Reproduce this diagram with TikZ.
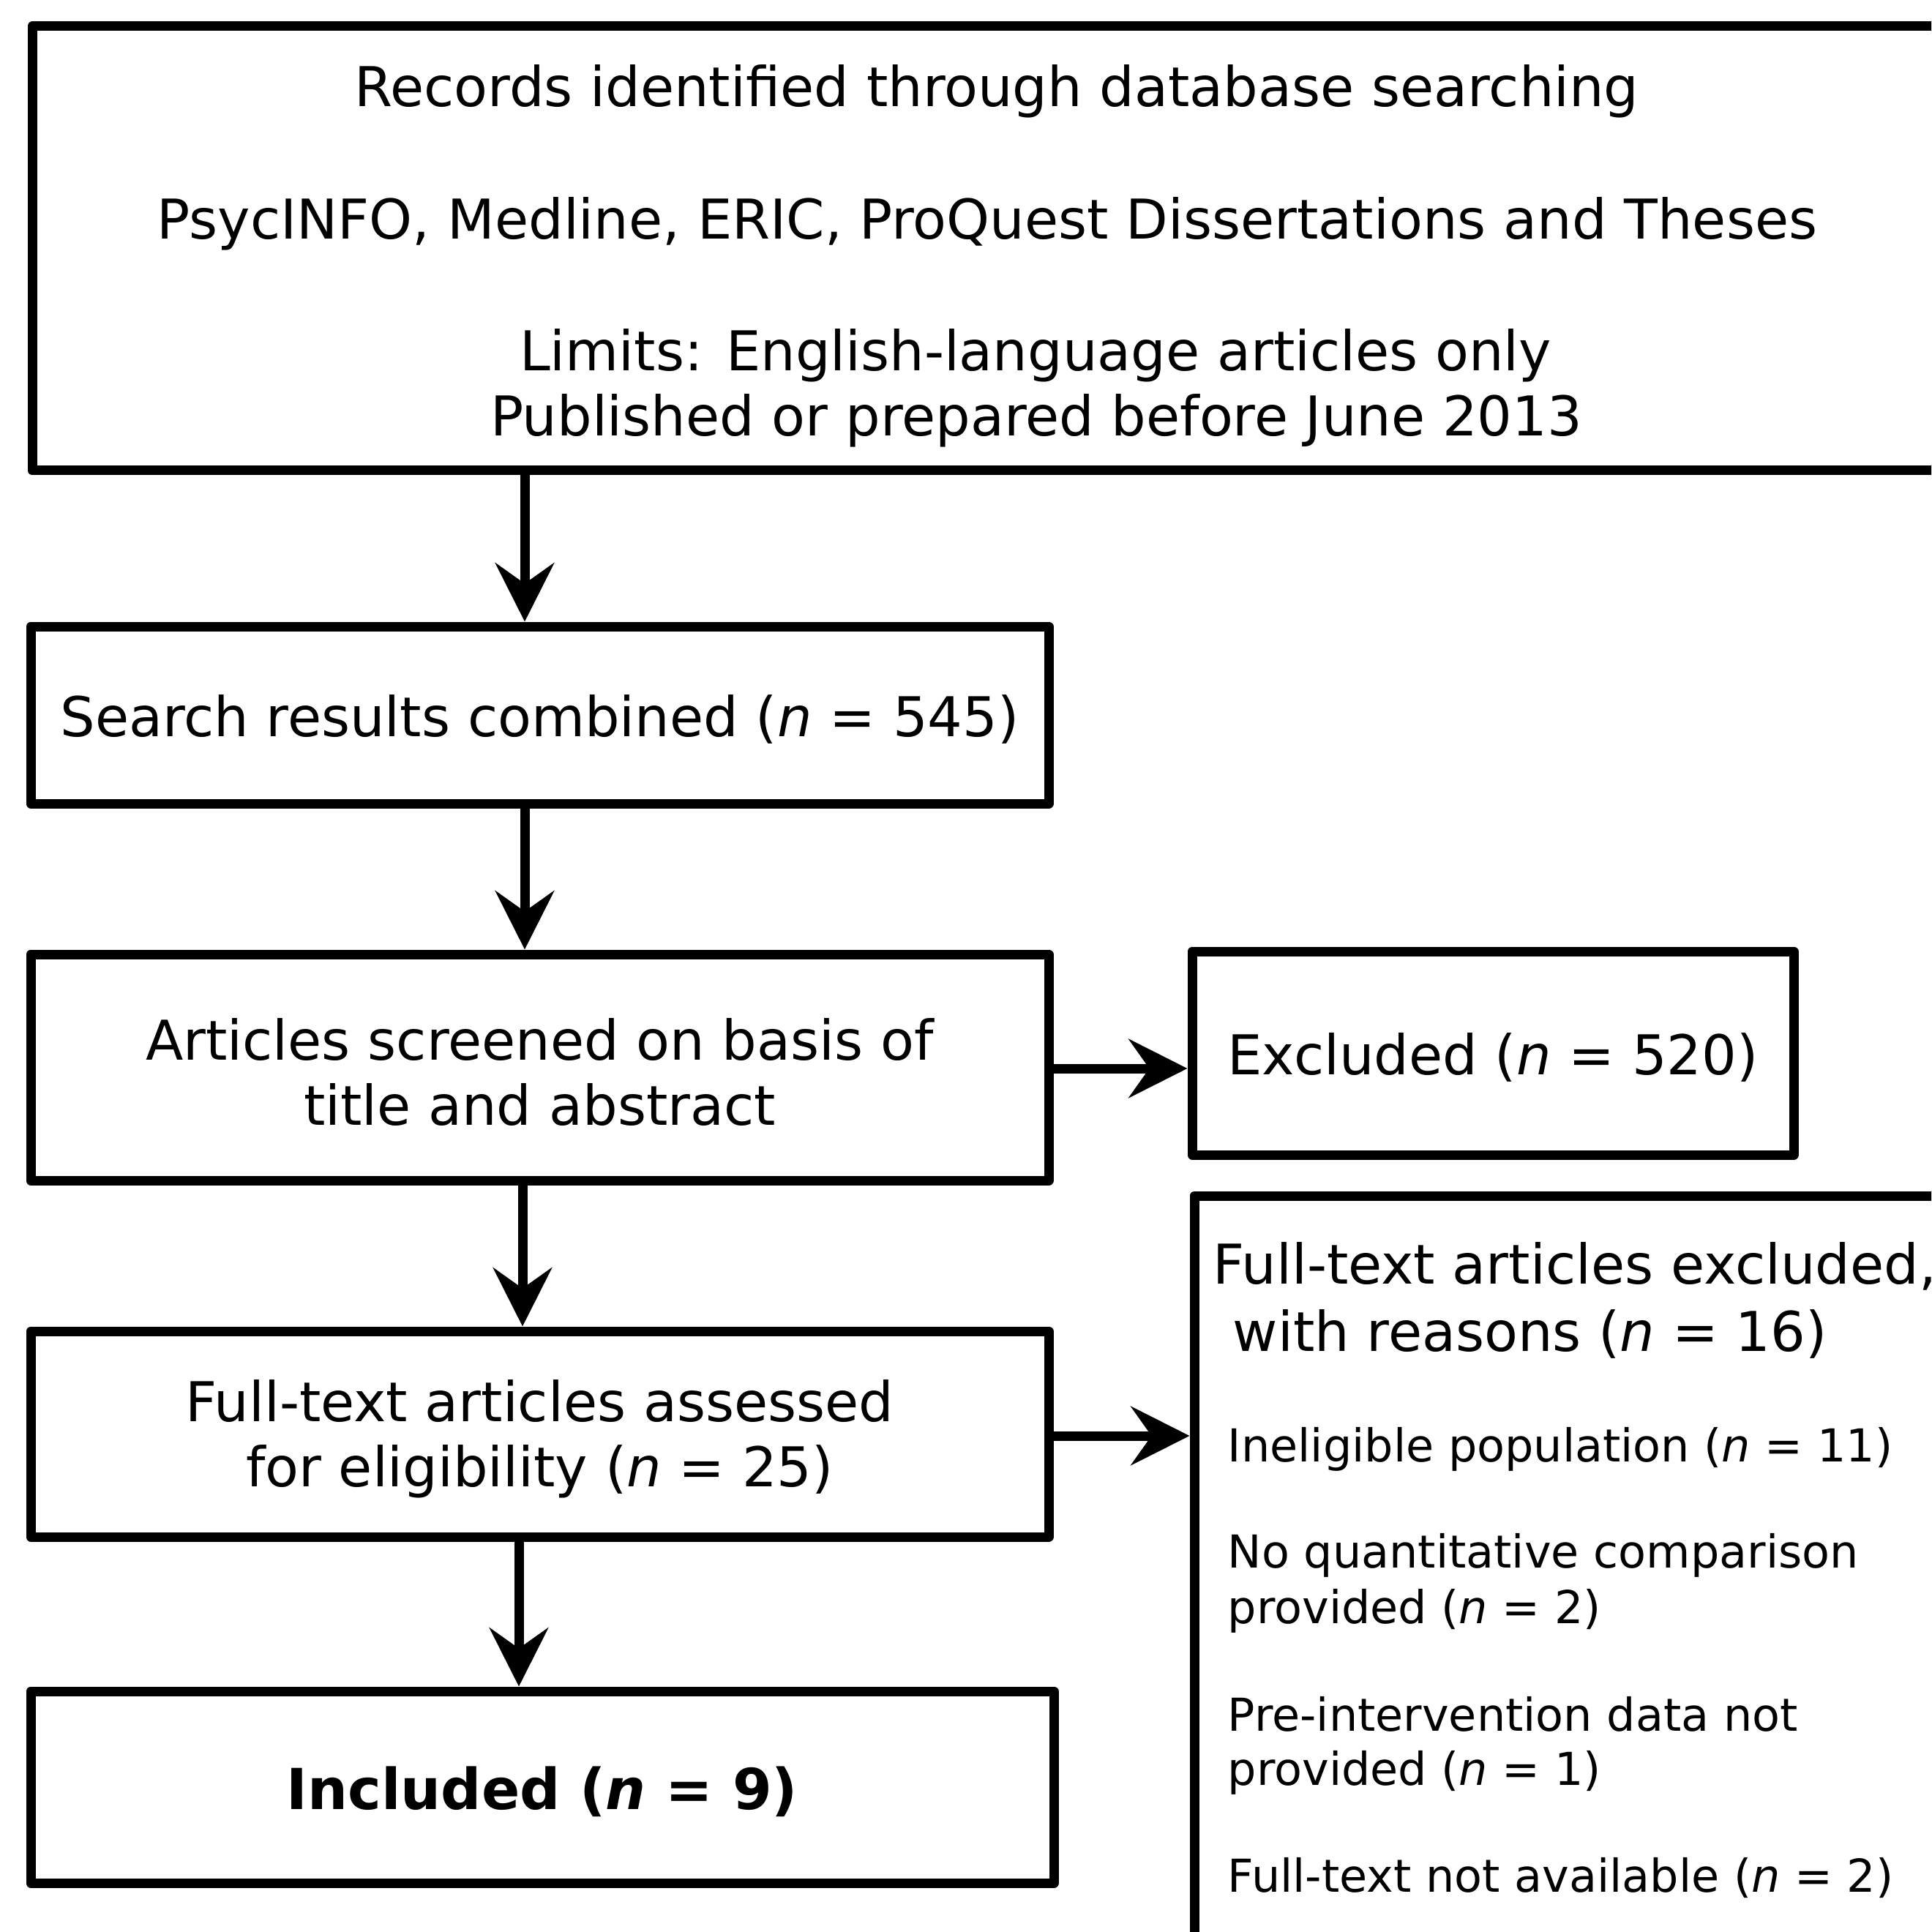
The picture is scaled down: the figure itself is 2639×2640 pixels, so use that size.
\documentclass[tikz,border=0pt]{standalone}
\usepackage{fontspec}
\setmainfont{DejaVu Sans}[ItalicFont={DejaVu Sans Oblique},BoldFont={DejaVu Sans Bold},BoldItalicFont={DejaVu Sans Bold Oblique}]
\usetikzlibrary{arrows.meta}
\begin{document}
\begin{tikzpicture}[x=0.25pt,y=-0.25pt,
  box/.style={draw,line width=3.25pt,line join=round,inner sep=0pt},
  big/.style={inner sep=0pt,align=center,font=\fontsize{18.75pt}{22.25pt}\selectfont},
  boxtext/.style={big,yshift=-1.6pt},
  small/.style={inner sep=0pt,anchor=base west,font=\fontsize{15.5pt}{18.5pt}\selectfont},
  arr/.style={line width=3.25pt,-{Stealth[length=20pt,width=20pt,inset=7pt]}}]
\useasboundingbox (0,0) rectangle (2639,2640);
\clip (0,0) rectangle (2639,2640);
% boxes
\node[box,minimum width={2656*0.25pt},minimum height={607*0.25pt}] (top) at (1372,339.5) {};
\node[box,minimum width={1391*0.25pt},minimum height={242*0.25pt}] (search) at (737.5,977) {};
\node[box,minimum width={1391*0.25pt},minimum height={309*0.25pt}] (screen) at (737.5,1458.5) {};
\node[box,minimum width={822*0.25pt},minimum height={278*0.25pt}] (excl) at (2040,1439) {};
\node[box,minimum width={1391*0.25pt},minimum height={281*0.25pt}] (assess) at (737.5,1959.5) {};
\node[box,minimum width={1068*0.25pt},minimum height={1066*0.25pt}] (reasons) at (2166,2167) {};
\node[box,minimum width={1398*0.25pt},minimum height={262*0.25pt}] (incl) at (741,2442) {};
% box texts
\node[boxtext] (searchT) at (search.center) {Search results combined (\textit{n} = 545)};
\node[boxtext] (screenT) at (screen.center) {Articles screened on basis of\\title and abstract};
\node[boxtext] (exclT) at (excl.center) {Excluded (\textit{n} = 520)};
\node[boxtext] (assessT) at (assess.center) {Full-text articles assessed\\for eligibility (\textit{n} = 25)};
\node[boxtext,font=\fontsize{19.3pt}{23pt}\selectfont\bfseries] (inclT) at (incl.center) {Included (\textit{n} = 9)};
% top box text
\node[big,anchor=base] (t1) at (1362,146) {Records identified through database searching};
\node[big,anchor=base] (t2) at (1349,327) {PsycINFO, Medline, ERIC, ProQuest Dissertations and Theses};
\node[big,anchor=base] (t3) at (1415,507) {Limits: English-language articles only};
\node[big,anchor=base] (t4) at (1416,596) {Published or prepared before June 2013};
% reasons text
\node[big,anchor=base west] (r1) at (1657,1754) {Full-text articles excluded,};
\node[big,anchor=base west] (r2) at (1684,1846) {with reasons (\textit{n} = 16)};
\node[small] (r3) at (1677,1997) {Ineligible population (\textit{n} = 11)};
\node[small] (r4) at (1677,2142) {No quantitative comparison};
\node[small] (r5) at (1677,2218) {provided (\textit{n} = 2)};
\node[small] (r6) at (1677,2365) {Pre-intervention data not};
\node[small] (r7) at (1677,2439) {provided (\textit{n} = 1)};
\node[small] (r8) at (1677,2585) {Full-text not available (\textit{n} = 2)};
% connectors
\coordinate (x1) at (717,0);
\coordinate (x2) at (717,0);
\coordinate (x3) at (714,0);
\coordinate (x4) at (709,0);
\coordinate (y1) at (0,1460);
\coordinate (y2) at (0,1962);
\draw[arr] (top.south -| x1) -- (search.north -| x1);
\draw[arr] (search.south -| x2) -- (screen.north -| x2);
\draw[arr] (screen.south -| x3) -- (assess.north -| x3);
\draw[arr] (assess.south -| x4) -- (incl.north -| x4);
\draw[arr] (screen.east |- y1) -- (excl.west |- y1);
\draw[arr] (assess.east |- y2) -- (reasons.west |- y2);
\end{tikzpicture}
\end{document}
